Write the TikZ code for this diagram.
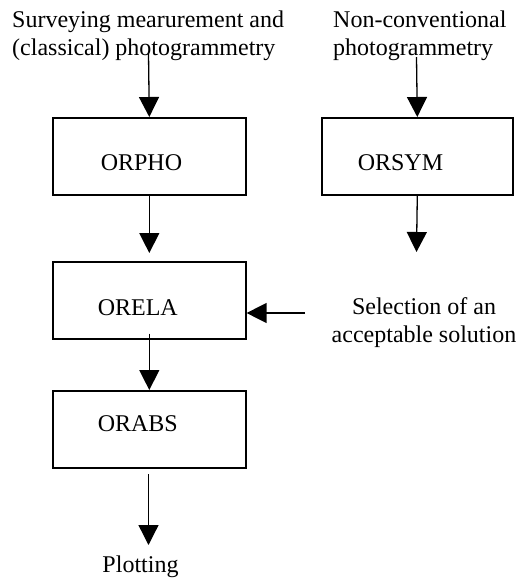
\documentclass[tikz,border=0pt]{standalone}
\usepackage{fontspec}
\setmainfont{Liberation Serif}
\usetikzlibrary{arrows.meta}
\begin{document}
\begin{tikzpicture}[x=1pt,y=-1pt,
  every node/.style={font=\fontsize{24}{28}\selectfont, inner sep=0pt},
  box/.style={draw, line width=1.6pt, anchor=north west, align=left, inner ysep=0pt},
  arr/.style={line width=1.3pt, -{Triangle[length=20pt,width=20pt]}},
  txt/.style={align=left, anchor=north west},
]
\useasboundingbox (0,0) rectangle (523,579);

% top texts
\node[txt] (src1) at (12,10.3) {Surveying mearurement and\\(classical) photogrammetry};
\node[txt] (src2) at (333,10.3) {Non-conventional\\photogrammetry};

% boxes
\node[box, inner xsep=48pt, text width=97pt, text height=53pt, text depth=24pt] (orpho) at (52,117) {ORPHO};
\node[box, inner xsep=36pt, text width=119pt, text height=53pt, text depth=24pt] (orsym) at (321,117) {ORSYM};
\node[box, inner xsep=45pt, text width=103pt, text height=54pt, text depth=23pt] (orela) at (52,261) {ORELA};
\node[box, inner xsep=45pt, text width=103pt, text height=40.7pt, text depth=36.3pt] (orabs) at (52,390) {ORABS};

% side text and output
\node[align=center, anchor=base] (sel) at (424,342.5) {Selection of an\\acceptable solution};
\node[anchor=base] (plot) at (140.5,572) {Plotting};

% connector end points
\coordinate (s1) at (148.5,53);
\coordinate (s2) at (416.5,57);
\coordinate (e4) at (416.5,252);
\coordinate (s5) at (305,313);
\coordinate (s7) at (148.5,474);
\coordinate (e7) at (148.5,545);

\draw[arr] (s1) -- (orpho.north);
\draw[arr] (s2) -- (orsym.north);
\draw[arr, shorten >=8pt] (orpho.south) -- (orela.north);
\draw[arr] (orsym.south) -- (e4);
\draw[arr] (s5) -- (s5 -| orela.east);
\draw[arr, shorten <=-6pt] (orela.south) -- (orabs.north);
\draw[arr] (s7) -- (e7);
\end{tikzpicture}
\end{document}
